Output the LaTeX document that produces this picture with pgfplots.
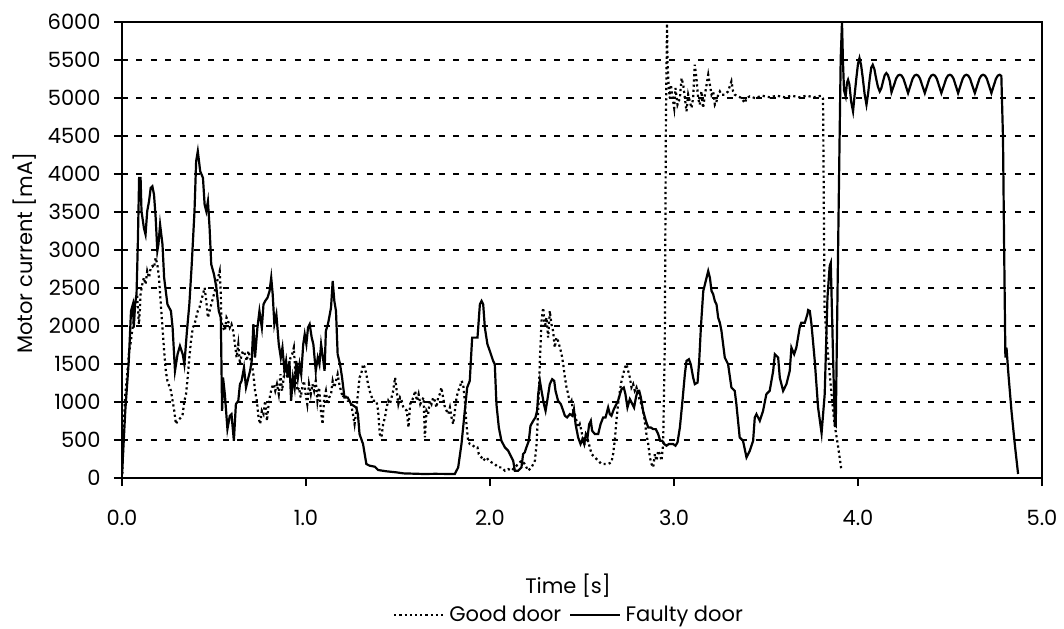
\documentclass[border=0pt]{standalone}
\usepackage{fontspec}
\setmainfont{Poppins}
\usepackage{pgfplots}
\pgfplotsset{compat=1.18}
\begin{document}
\fontsize{10.5}{12}\selectfont
\begin{tikzpicture}
\useasboundingbox (-61pt,-75pt) rectangle (471pt,239pt);
\begin{axis}[
  scale only axis, width=460pt, height=228pt,
  xmin=0, xmax=5, ymin=0, ymax=6000,
  xtick={0,1,2,3,4,5}, ytick={0,500,...,6000},
  xtick pos=bottom, ytick pos=left, tick align=outside,
  major tick length=4pt,
  tick style={black, line width=0.6pt},
  axis line style={line width=0.9pt},
  ymajorgrids, major grid style={black, dash pattern=on 3pt off 4.2pt, line width=0.9pt},
  /pgf/number format/assume math mode=true,
  /pgf/number format/1000 sep={},
  x tick label style={/pgf/number format/fixed, /pgf/number format/fixed zerofill, /pgf/number format/precision=1, yshift=-8.5pt},
  tick label style={font=\fontsize{10.5}{12}\selectfont},
  yticklabel style={xshift=-3pt},
  label style={font=\fontsize{10.5}{12}\selectfont},
  xlabel={Time [s]},
  ylabel={Motor current [mA]},
  xlabel style={at={(axis description cs:0.4848,-0.237)}, anchor=center},
  ylabel style={at={(axis description cs:-0.1054,0.493)}, anchor=center},
  legend columns=2,
  legend style={draw=none, at={(0.487,-0.30)}, anchor=center, font=\fontsize{10.5}{12}\selectfont,
    /tikz/every even column/.append style={column sep=2pt}},
  legend image code/.code={\draw[#1] (0pt,0pt) -- (25pt,0pt);},
]
% Good door (dotted)
\addplot[black, line width=1.1pt, dash pattern=on 1.1pt off 1.5pt] coordinates {
(0.002,53)(0.009,665)(0.018,1103)(0.027,1322)(0.037,1629)(0.046,1760)(0.055,1935)(0.064,2066)
(0.073,2329)(0.082,2417)(0.092,2023)(0.097,2198)(0.101,2417)(0.110,2548)(0.119,2636)(0.128,2548)
(0.137,2723)(0.147,2636)(0.156,2767)(0.165,2789)(0.174,2767)(0.183,2898)(0.192,2811)(0.201,2636)
(0.211,2285)(0.220,1979)(0.229,1672)(0.238,1410)(0.247,1278)(0.266,1147)(0.275,1016)(0.284,884)
(0.293,709)(0.302,753)(0.321,797)(0.330,841)(0.339,1016)(0.348,1103)(0.357,1322)(0.366,1585)
(0.375,1804)(0.385,1979)(0.394,2023)(0.403,2110)(0.412,2198)(0.421,2242)(0.430,2329)(0.440,2417)
(0.449,2504)(0.458,2329)(0.467,2110)(0.476,2198)(0.485,2285)(0.495,2373)(0.504,2460)(0.513,2548)
(0.522,2636)(0.531,2723)(0.537,2417)(0.540,2066)(0.549,1979)(0.559,1935)(0.568,2110)(0.577,2066)
(0.586,1979)(0.595,2023)(0.604,1935)(0.614,1760)(0.623,1585)(0.632,1760)(0.641,1497)(0.650,1629)
(0.659,1672)(0.668,1629)(0.678,1541)(0.687,1672)(0.696,1585)(0.705,1497)(0.714,1366)(0.723,1147)
(0.733,1016)(0.742,797)(0.751,709)(0.760,884)(0.769,841)(0.778,1016)(0.788,753)(0.797,972)
(0.806,1103)(0.815,1191)(0.824,1235)(0.833,1147)(0.842,1235)(0.852,1103)(0.861,1366)(0.870,1147)
(0.879,1322)(0.888,1541)(0.897,1322)(0.907,1497)(0.916,1585)(0.925,1629)(0.934,1716)(0.943,1322)
(0.952,1147)(0.962,1191)(0.971,1059)(0.980,1191)(0.989,1278)(0.998,1103)(1.007,972)(1.016,1235)
(1.026,1103)(1.035,1235)(1.044,1147)(1.053,1278)(1.062,1016)(1.071,1191)(1.081,884)(1.090,709)
(1.099,1059)(1.108,1147)(1.117,972)(1.126,1059)(1.136,1103)(1.145,1278)(1.154,1191)(1.163,1278)
(1.172,1366)(1.181,1235)(1.190,1147)(1.200,1059)(1.209,1103)(1.218,1059)(1.227,1016)(1.236,1016)
(1.245,972)(1.255,841)(1.264,709)(1.273,884)(1.282,1103)(1.291,1322)(1.300,1366)(1.310,1497)
(1.319,1453)(1.328,1366)(1.337,1235)(1.346,1147)(1.364,1016)(1.383,1016)(1.392,884)(1.401,578)
(1.410,534)(1.419,709)(1.429,797)(1.438,928)(1.447,1016)(1.456,972)(1.465,1059)(1.474,1147)
(1.484,1322)(1.493,1147)(1.502,972)(1.511,1059)(1.520,1016)(1.529,928)(1.548,884)(1.557,665)
(1.566,972)(1.575,1016)(1.584,1059)(1.593,1147)(1.603,1016)(1.612,1103)(1.621,972)(1.630,1016)
(1.639,1059)(1.646,534)(1.655,884)(1.664,841)(1.673,1016)(1.682,972)(1.691,1059)(1.700,1016)
(1.709,928)(1.718,1059)(1.727,1103)(1.736,1191)(1.745,1059)(1.755,928)(1.764,884)(1.773,841)
(1.782,928)(1.791,797)(1.800,709)(1.809,884)(1.818,1059)(1.827,1147)(1.836,1191)(1.845,1278)
(1.854,1235)(1.863,1016)(1.872,709)(1.881,490)(1.890,447)(1.899,447)(1.918,403)(1.932,403)
(1.939,315)(1.954,271)(1.963,228)(1.981,271)(1.994,228)(2.008,206)(2.026,184)(2.044,140)
(2.062,140)(2.081,96)(2.099,118)(2.117,96)(2.135,140)(2.144,162)(2.153,184)(2.171,228)
(2.189,184)(2.207,96)(2.226,140)(2.244,228)(2.253,447)(2.262,884)(2.271,1541)(2.280,2066)
(2.289,2242)(2.298,1979)(2.307,2110)(2.316,1848)(2.325,2198)(2.334,2023)(2.343,1935)(2.352,1716)
(2.361,1848)(2.370,1804)(2.380,1716)(2.389,1629)(2.398,1497)(2.407,1322)(2.416,1191)(2.425,1103)
(2.434,972)(2.443,1016)(2.452,884)(2.461,841)(2.470,753)(2.479,665)(2.488,709)(2.497,622)
(2.506,490)(2.515,447)(2.533,490)(2.552,315)(2.570,271)(2.588,228)(2.606,184)(2.624,184)
(2.642,184)(2.660,206)(2.669,315)(2.678,490)(2.687,753)(2.696,972)(2.706,1147)(2.715,1278)
(2.724,1366)(2.733,1453)(2.742,1497)(2.751,1410)(2.760,1322)(2.769,1191)(2.778,1235)(2.787,1147)
(2.796,1191)(2.805,1103)(2.814,1016)(2.823,972)(2.832,884)(2.841,753)(2.850,578)(2.860,447)
(2.869,271)(2.878,184)(2.887,140)(2.896,315)(2.905,228)(2.914,359)(2.923,315)(2.932,228)
(2.941,447)(2.950,1760)(2.956,4693)(2.962,5980)(2.965,5437)(2.972,5131)(2.977,5000)(2.983,5175)
(2.990,5044)(3.001,4868)(3.008,5131)(3.019,4912)(3.032,5000)(3.041,5262)(3.050,5175)(3.059,5000)
(3.068,4824)(3.077,5044)(3.086,4956)(3.095,4868)(3.104,5000)(3.113,5437)(3.122,5262)(3.131,5000)
(3.140,4912)(3.149,5087)(3.158,4868)(3.168,5044)(3.177,5175)(3.186,5306)(3.195,5175)(3.204,5044)
(3.213,5087)(3.222,4912)(3.231,4956)(3.240,5044)(3.249,5087)(3.258,5044)(3.276,5044)(3.294,5087)
(3.312,5219)(3.321,5087)(3.330,5044)(3.348,5022)(3.366,5000)(3.385,4934)(3.394,5000)(3.412,5022)
(3.439,5000)(3.480,5030)(3.520,5010)(3.560,5030)(3.600,5010)(3.640,5030)(3.680,5010)(3.720,5030)
(3.760,5010)(3.801,5030)(3.810,4991)(3.813,4000)(3.816,3000)(3.818,2250)(3.829,1850)(3.845,1400)
(3.860,1000)(3.872,720)(3.892,410)(3.910,100)
};
\addlegendentry{Good door}
% Faulty door (solid)
\addplot[black, line width=1.1pt] coordinates {
(0.000,50)(0.018,890)(0.037,1546)(0.049,2198)(0.059,2285)(0.064,1979)(0.071,2285)(0.079,2417)
(0.086,3073)(0.093,3949)(0.101,3949)(0.106,3511)(0.119,3292)(0.128,3205)(0.137,3511)(0.147,3642)
(0.156,3818)(0.165,3839)(0.174,3730)(0.183,3424)(0.192,2986)(0.198,3073)(0.207,3336)(0.220,3073)
(0.229,2636)(0.247,2285)(0.266,2198)(0.275,1979)(0.288,1410)(0.302,1629)(0.315,1738)(0.330,1629)
(0.339,1497)(0.353,1935)(0.366,2285)(0.379,2811)(0.394,3511)(0.403,4168)(0.412,4299)(0.425,4037)
(0.440,3949)(0.449,3599)(0.458,3511)(0.467,3642)(0.476,3292)(0.485,2811)(0.500,2679)(0.513,2504)
(0.526,2198)(0.537,2110)(0.544,884)(0.549,1322)(0.559,1103)(0.573,644)(0.586,819)(0.595,841)
(0.608,490)(0.619,972)(0.632,1016)(0.641,1235)(0.650,1278)(0.663,1453)(0.674,1191)(0.687,1322)
(0.696,1410)(0.705,1541)(0.714,2023)(0.723,1585)(0.736,1979)(0.747,2198)(0.760,1979)(0.769,2285)
(0.778,2329)(0.791,2373)(0.802,2460)(0.811,2636)(0.819,2417)(0.828,2023)(0.839,2154)(0.852,1760)
(0.863,1585)(0.872,1716)(0.883,1410)(0.892,1541)(0.901,1322)(0.910,1541)(0.919,1016)(0.929,1322)
(0.938,1191)(0.947,1541)(0.956,1322)(0.965,1497)(0.974,1366)(0.985,1760)(0.993,1891)(1.002,1760)
(1.011,1979)(1.020,2023)(1.031,1848)(1.040,1760)(1.053,1410)(1.064,1585)(1.073,1497)(1.082,1760)
(1.092,1585)(1.101,1410)(1.108,1935)(1.119,2023)(1.126,2110)(1.136,2242)(1.145,2592)(1.154,2329)
(1.163,2198)(1.172,1629)(1.185,1497)(1.196,1322)(1.209,1059)(1.227,1059)(1.245,972)(1.273,928)
(1.282,841)(1.291,578)(1.310,447)(1.328,184)(1.346,162)(1.374,149)(1.392,105)(1.438,88)
(1.493,74)(1.529,61)(1.639,53)(1.700,55)(1.809,53)(1.827,140)(1.845,447)(1.863,884)
(1.876,1191)(1.890,1278)(1.903,1847)(1.918,1847)(1.932,1847)(1.945,2285)(1.954,2329)(1.963,2285)
(1.972,1979)(1.986,1760)(1.999,1672)(2.017,1541)(2.026,1497)(2.035,972)(2.048,665)(2.062,490)
(2.081,403)(2.099,359)(2.117,271)(2.126,228)(2.135,96)(2.153,96)(2.171,140)(2.180,315)
(2.189,337)(2.198,403)(2.211,490)(2.220,687)(2.235,753)(2.247,797)(2.256,884)(2.262,1103)
(2.271,1278)(2.280,1147)(2.293,972)(2.302,884)(2.311,1016)(2.325,1235)(2.338,1300)(2.349,1278)
(2.356,1147)(2.370,1016)(2.385,972)(2.398,884)(2.407,819)(2.419,797)(2.434,841)(2.447,819)
(2.456,906)(2.465,709)(2.479,534)(2.492,447)(2.503,512)(2.512,447)(2.521,578)(2.530,534)
(2.539,709)(2.548,753)(2.555,622)(2.570,578)(2.588,578)(2.601,709)(2.615,797)(2.628,797)
(2.642,928)(2.651,841)(2.660,819)(2.673,906)(2.687,972)(2.696,1016)(2.706,1103)(2.715,1169)
(2.727,1191)(2.736,1103)(2.747,928)(2.760,1038)(2.774,972)(2.783,928)(2.793,1059)(2.802,1147)
(2.811,1147)(2.820,1059)(2.832,884)(2.847,753)(2.860,665)(2.874,665)(2.887,643)(2.901,643)
(2.914,578)(2.925,490)(2.936,490)(2.947,447)(2.959,425)(2.972,447)(2.983,447)(2.995,447)
(3.008,425)(3.019,468)(3.032,665)(3.046,1016)(3.059,1366)(3.068,1541)(3.081,1563)(3.091,1497)
(3.104,1322)(3.113,1235)(3.128,1256)(3.137,1541)(3.146,1979)(3.159,2460)(3.168,2548)(3.177,2636)
(3.186,2723)(3.195,2636)(3.204,2460)(3.213,2417)(3.222,2329)(3.231,2285)(3.240,2110)(3.249,2044)
(3.258,1935)(3.276,1585)(3.294,1497)(3.312,1191)(3.330,1147)(3.339,972)(3.357,534)(3.375,490)
(3.394,271)(3.412,359)(3.430,490)(3.439,797)(3.448,841)(3.466,753)(3.484,884)(3.502,1103)
(3.520,1147)(3.539,1410)(3.548,1629)(3.566,1585)(3.575,1322)(3.593,1147)(3.611,1235)(3.629,1410)
(3.638,1716)(3.653,1629)(3.665,1716)(3.683,1979)(3.692,2044)(3.711,2044)(3.725,2154)(3.729,2210)
(3.738,2198)(3.747,2023)(3.765,1541)(3.783,928)(3.802,590)(3.819,1103)(3.834,2373)(3.846,2789)
(3.852,2830)(3.865,1541)(3.874,700)(3.879,687)(3.897,3949)(3.906,5525)(3.913,6000)(3.918,5500)
(3.924,5100)(3.933,5022)(3.940,5200)(3.946,5240)(3.953,5180)(3.963,4950)(3.973,4824)(3.982,5050)
(3.991,5262)(4.000,5450)(4.008,5525)(4.017,5430)(4.026,5262)(4.036,5050)(4.046,4912)(4.055,5060)
(4.064,5262)(4.072,5400)(4.080,5437)(4.089,5380)(4.098,5262)(4.108,5150)(4.118,5087)(4.127,5130)
(4.136,5219)(4.145,5300)(4.154,5328)(4.163,5300)(4.173,5219)(4.182,5075)
(4.197,5180)(4.207,5255)(4.217,5295)(4.227,5306)(4.237,5295)(4.247,5255)(4.257,5180)(4.272,5065)
(4.287,5180)(4.297,5255)(4.307,5295)(4.317,5306)(4.327,5295)(4.337,5255)(4.347,5180)(4.363,5065)
(4.378,5180)(4.388,5255)(4.398,5295)(4.408,5306)(4.418,5295)(4.428,5255)(4.438,5180)(4.453,5065)
(4.469,5180)(4.479,5255)(4.489,5295)(4.499,5306)(4.509,5295)(4.519,5255)(4.529,5180)(4.544,5065)
(4.559,5180)(4.569,5255)(4.579,5295)(4.589,5306)(4.599,5295)(4.609,5255)(4.619,5180)(4.635,5065)
(4.650,5180)(4.660,5255)(4.670,5295)(4.680,5306)(4.690,5295)(4.700,5255)(4.710,5180)(4.725,5065)
(4.740,5180)(4.750,5255)(4.760,5295)(4.770,5306)(4.779,5290)(4.788,4474)(4.794,3073)(4.801,1585)
(4.807,1716)(4.816,1410)(4.834,884)(4.852,447)(4.870,53)
};
\addlegendentry{Faulty door}
\end{axis}
\end{tikzpicture}
\end{document}
